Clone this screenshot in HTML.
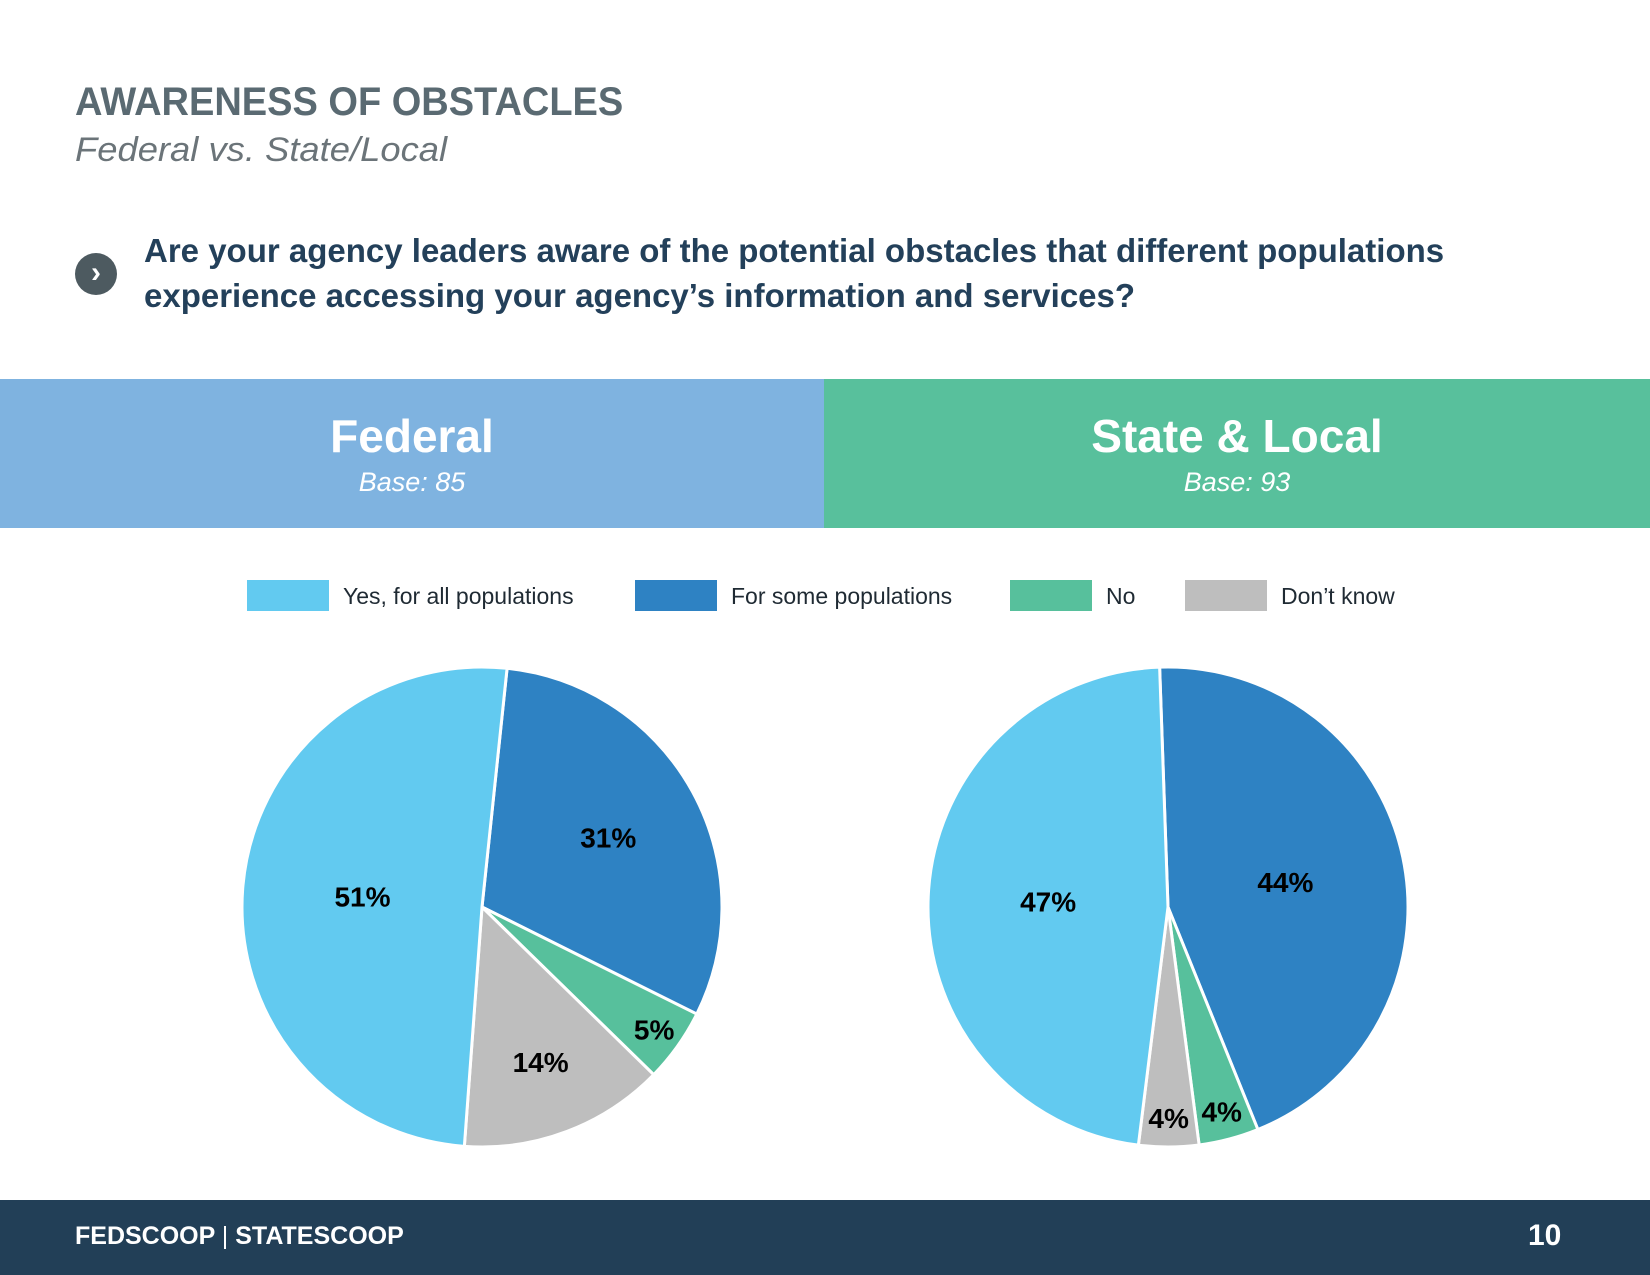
<!DOCTYPE html>
<html><head><meta charset="utf-8"><style>
html,body{margin:0;padding:0;background:#fff}
body{width:1650px;height:1275px;position:relative;overflow:hidden;font-family:"Liberation Sans",sans-serif}
.abs{position:absolute;white-space:nowrap}
</style></head><body>
<div class="abs" style="left:75px;top:80px;font-size:40px;font-weight:bold;color:#5a6a72;transform:scaleX(0.95);transform-origin:left">AWARENESS OF OBSTACLES</div>
<div class="abs" style="left:75px;top:131px;font-size:34px;font-style:italic;color:#6b7479;transform:scaleX(1.07);transform-origin:left">Federal vs. State/Local</div>
<div class="abs" style="left:75px;top:253px;width:42px;height:42px;border-radius:50%;background:#4d5a60;color:#fff;font-size:30px;font-weight:bold;text-align:center;line-height:40px">&#8250;</div>
<div class="abs" style="left:144px;top:228px;font-size:33px;font-weight:bold;color:#23405a;line-height:45px;transform:scaleX(1.0);transform-origin:left">Are your agency leaders aware of the potential obstacles that different populations<br>experience accessing your agency’s information and services?</div>
<div class="abs" style="left:0;top:379px;width:824px;height:149px;background:#7fb3e0;color:#fff;text-align:center">
<div style="font-size:46px;font-weight:bold;margin-top:30px">Federal</div>
<div style="font-size:27px;font-style:italic;margin-top:4px">Base: 85</div></div>
<div class="abs" style="left:824px;top:379px;width:826px;height:149px;background:#58c09c;color:#fff;text-align:center">
<div style="font-size:46px;font-weight:bold;margin-top:30px">State &amp; Local</div>
<div style="font-size:27px;font-style:italic;margin-top:4px">Base: 93</div></div>
<svg id="chart" class="abs" style="left:0;top:0" width="1650" height="1275"></svg>
<div class="abs" style="left:0;top:1200px;width:1650px;height:75px;background:#223f57">
<div class="abs" style="left:75px;top:22px;font-size:25px;font-weight:bold;color:#fff;letter-spacing:0px">FEDSCOOP <span style="font-weight:normal">|</span> STATESCOOP</div>
<div class="abs" style="left:1528px;top:19px;font-size:30px;font-weight:bold;color:#fff">10</div></div>
<script>
const categories=["For some populations","No","Don’t know","Yes, for all populations"];
const legendOrder=["Yes, for all populations","For some populations","No","Don’t know"];
const colors={"Yes, for all populations":"#62caf0","For some populations":"#2e82c3","No":"#57c09c","Don’t know":"#bebebe"};
const federalValues=[31,5,14,51];
const stateValues=[44,4,4,47];
const federalStartDeg=6;
const stateStartDeg=-2;
const NS="http://www.w3.org/2000/svg";
const svg=document.getElementById('chart');
function pt(cx,cy,r,deg){const a=deg*Math.PI/180;return [cx+r*Math.sin(a),cy-r*Math.cos(a)];}
function drawPie(name,values,startDeg,cx,cy,r){
  const total=values.reduce((a,b)=>a+b,0);let a0=startDeg;
  values.forEach((v,i)=>{
    const sweep=v/total*360,a1=a0+sweep;
    const p0=pt(cx,cy,r,a0),p1=pt(cx,cy,r,a1);
    const path=document.createElementNS(NS,'path');
    path.setAttribute('d',`M${cx},${cy}L${p0[0]},${p0[1]}A${r},${r} 0 ${sweep>180?1:0} 1 ${p1[0]},${p1[1]}Z`);
    path.setAttribute('fill',colors[categories[i]]);path.setAttribute('stroke','#fff');path.setAttribute('stroke-width','3');
    
    
    svg.appendChild(path);
    const f=v<=5?0.88:v<=20?0.69:v<40?0.6:0.5;
    const lp=pt(cx,cy,r*f,a0+sweep/2);
    const t=document.createElementNS(NS,'text');
    t.setAttribute('x',lp[0]);t.setAttribute('y',lp[1]+10);t.setAttribute('text-anchor','middle');
    t.setAttribute('font-size','28');t.setAttribute('font-weight','bold');t.setAttribute('fill','#000');
    t.textContent=v+'%';
    
    
    svg.appendChild(t);
    a0=a1;
  });
}
drawPie('federal-pie',federalValues,federalStartDeg,482,907,240);
drawPie('state-pie',stateValues,stateStartDeg,1168,907,240);
const legX=[247,635,1010,1185];
legendOrder.forEach((c,i)=>{
  const r=document.createElementNS(NS,'rect');
  r.setAttribute('x',legX[i]);r.setAttribute('y',580);r.setAttribute('width',82);r.setAttribute('height',31);r.setAttribute('fill',colors[c]);
  
  
  svg.appendChild(r);
  const t=document.createElementNS(NS,'text');
  t.setAttribute('x',legX[i]+96);t.setAttribute('y',604);t.setAttribute('font-size','23');t.setAttribute('fill','#1f2a33');
  t.textContent=c;
  
  
  svg.appendChild(t);
});
</script>
</body></html>
